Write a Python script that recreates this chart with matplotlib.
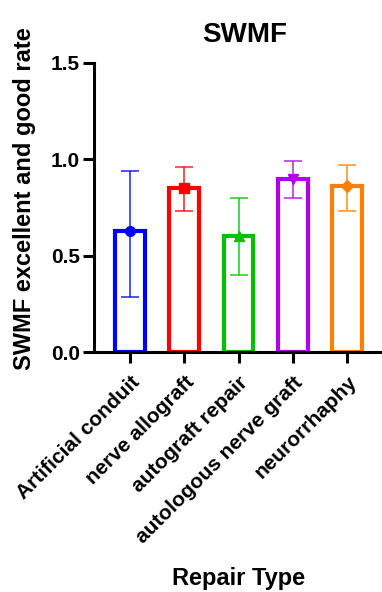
import numpy as np
import matplotlib
matplotlib.use("Agg")
import matplotlib.pyplot as plt

plt.rcParams['font.family'] = ['Liberation Sans', 'DejaVu Sans']
plt.rcParams['font.weight'] = 'bold'

categories = ["Artificial conduit", "nerve allograft", "autograft repair",
              "autologous nerve graft", "neurorrhaphy"]
means = [0.63, 0.85, 0.60, 0.90, 0.86]
err_low = [0.285, 0.73, 0.40, 0.80, 0.733]
err_high = [0.94, 0.96, 0.80, 0.99, 0.97]
colors = ["#0000FF", "#FF0000", "#00C000", "#B000E8", "#FF8000"]
markers = ["o", "s", "^", "v", "D"]

fig = plt.figure(figsize=(3.82, 5.92), dpi=100)
ax = fig.add_axes([94 / 382, 1 - 352 / 592, (383 - 94) / 382, (352 - 63) / 592])

x = np.arange(len(categories))
for i in range(len(categories)):
    ax.bar(x[i], means[i], width=0.55, facecolor="white", edgecolor=colors[i],
           linewidth=3.0, zorder=2)
    ax.errorbar(x[i], means[i],
                yerr=[[means[i] - err_low[i]], [err_high[i] - means[i]]],
                color=colors[i], alpha=0.8, elinewidth=1.2, capsize=6.5,
                capthick=1.2, fmt="none", zorder=3)
    ms = 6 if markers[i] == "D" else 7
    ax.plot(x[i], means[i], marker=markers[i], color=colors[i], markersize=ms,
            zorder=4, clip_on=False)

ax.set_xlim(-0.66, 4.66)
ax.set_ylim(0, 1.5)
ax.set_yticks([0.0, 0.5, 1.0, 1.5])
ax.set_yticklabels(["0.0", "0.5", "1.0", "1.5"])
ax.set_xticks(x)
ax.set_xticklabels(categories, rotation=45, ha="right", rotation_mode="anchor")

for s in ["top", "right"]:
    ax.spines[s].set_visible(False)
for s in ["left", "bottom"]:
    ax.spines[s].set_linewidth(2.2)
    ax.spines[s].set_zorder(5)

ax.tick_params(axis="both", width=2.2, length=8, labelsize=15, pad=2)
ax.tick_params(axis="x", pad=7)

fig.text(25 / 382, 1 - 199 / 592, "SWMF excellent and good rate", rotation=90,
         ha="center", va="center", fontsize=17, fontweight="bold")
fig.text(239 / 382, 1 - 578 / 592, "Repair Type", ha="center", va="center",
         fontsize=17, fontweight="bold")
fig.text(244.5 / 382, 1 - 35 / 592, "SWMF", ha="center", va="center",
         fontsize=20, fontweight="bold")

fig.savefig("out.png", dpi=100)
